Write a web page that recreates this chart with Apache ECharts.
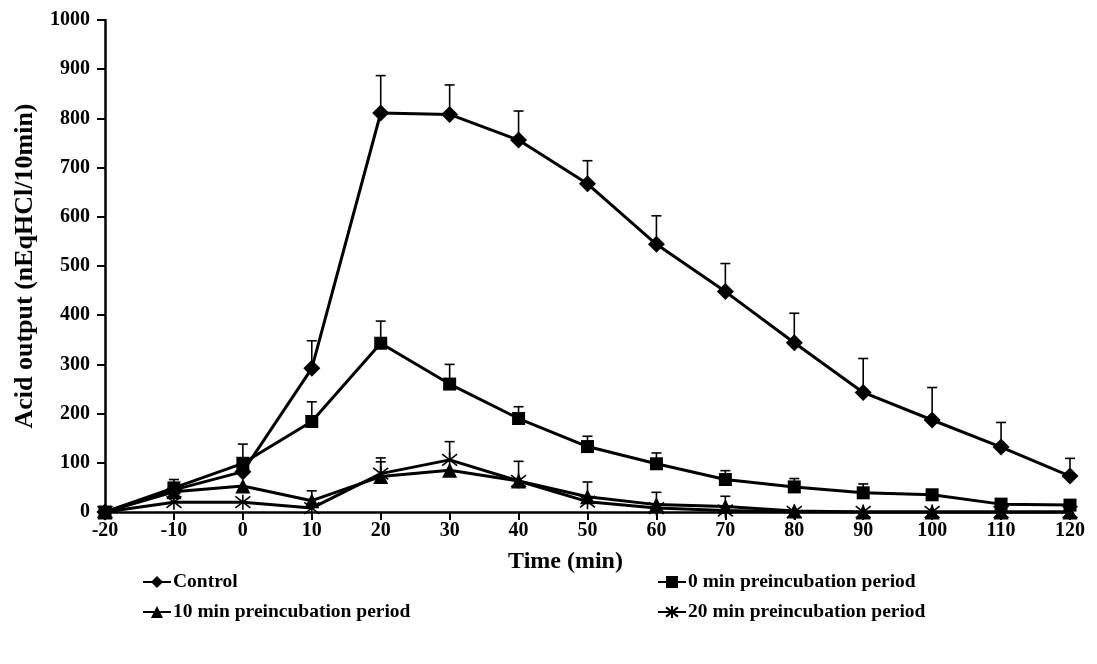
<!DOCTYPE html>
<html>
<head>
<meta charset="utf-8">
<script src="https://cdn.jsdelivr.net/npm/echarts@6/dist/echarts.min.js"></script>
<style>
  html, body { margin: 0; padding: 0; background: #fff; }
  #chart { width: 1097px; height: 664px; }
</style>
</head>
<body>
<div id="chart"></div>
<script>
// time points (min)
const times = [-20, -10, 0, 10, 20, 30, 40, 50, 60, 70, 80, 90, 100, 110, 120];

const seriesNames = ['Control', '0 min preincubation period', '10 min preincubation period', '20 min preincubation period'];

// mean acid output
const control = [0, 45, 82, 292, 811, 808, 756, 667, 544, 448, 344, 243, 187, 132, 73];
const pre0 = [0, 49, 99, 184, 343, 260, 190, 133, 98, 66, 51, 39, 35, 16, 14];
const pre10 = [0, 41, 53, 23, 72, 85, 63, 31, 15, 11, 2, 0, 0, 0, 0];
const pre20 = [0, 20, 20, 8, 78, 106, 63, 21, 8, 3, 0, 0, 0, 0, 0];

// upper error (SEM)
const controlErr = [0, 0, 0, 56, 76, 60, 59, 47, 58, 57, 60, 69, 66, 50, 36];
const pre0Err = [0, 17, 39, 40, 45, 40, 24, 21, 22, 18, 17, 18, 0, 0, 0];
const pre10Err = [0, 0, 0, 20, 30, 0, 0, 30, 25, 21, 0, 0, 0, 0, 0];
const pre20Err = [0, 0, 0, 0, 32, 37, 40, 0, 0, 0, 0, 0, 0, 0, 0];

const font = "'Liberation Serif', 'Times New Roman', serif";
const starPath = 'path://M0,0L10,10M10,0L0,10M5,-1.5L5,11.5';

const chart = echarts.init(document.getElementById('chart'));

const lineSeries = (name, values, symbol, size) => ({
  name: name,
  type: 'line',
  data: times.map((t, i) => [t, values[i]]),
  symbol: symbol,
  symbolSize: size,
  z: 3,
  lineStyle: { color: '#000', width: 3 },
  itemStyle: { color: '#000', borderColor: '#000', borderWidth: symbol === starPath ? 1.6 : 0 }
});

const errSeries = (values, errs) => ({
  type: 'custom',
  silent: true,
  z: 2,
  data: times.map((t, i) => [t, values[i], errs[i]]).filter(d => d[2] > 0),
  renderItem: (params, api) => {
    const x = api.value(0), y = api.value(1), e = api.value(2);
    const p0 = api.coord([x, y]);
    const p1 = api.coord([x, y + e]);
    const st = { stroke: '#000', lineWidth: 1.6 };
    return {
      type: 'group',
      children: [
        { type: 'line', shape: { x1: p0[0], y1: p0[1], x2: p1[0], y2: p1[1] }, style: st },
        { type: 'line', shape: { x1: p1[0] - 5, y1: p1[1], x2: p1[0] + 5, y2: p1[1] }, style: st }
      ]
    };
  }
});

const legendItem = (name, left, top) => ({
  data: [name],
  left: left,
  top: top,
  padding: 0,
  itemWidth: 28,
  itemHeight: 15,
  itemGap: 0,
  selectedMode: false,
  textStyle: { fontFamily: font, fontWeight: 'bold', fontSize: 19.5, color: '#000', padding: [0, 0, 0, -3] }
});

const option = {
  backgroundColor: '#fff',
  animation: false,
  grid: { left: 105, right: 27, top: 20, bottom: 152 },
  legend: [
    legendItem(seriesNames[0], 142, 572),
    legendItem(seriesNames[1], 657, 572),
    legendItem(seriesNames[2], 142, 602),
    legendItem(seriesNames[3], 657, 602)
  ],
  xAxis: {
    type: 'value',
    min: -20,
    max: 120,
    interval: 10,
    name: 'Time (min)',
    nameLocation: 'middle',
    nameGap: 38,
    nameTextStyle: { fontFamily: font, fontWeight: 'bold', fontSize: 24, color: '#000', padding: [0, 44, 0, 0] },
    axisLine: { onZero: false, lineStyle: { color: '#000', width: 2.5 } },
    axisTick: { length: 8, lineStyle: { color: '#000', width: 2 } },
    axisLabel: { fontFamily: font, fontWeight: 'bold', fontSize: 20, color: '#000', margin: 9 },
    splitLine: { show: false }
  },
  yAxis: {
    type: 'value',
    min: 0,
    max: 1000,
    interval: 100,
    name: 'Acid output (nEqHCl/10min)',
    nameLocation: 'middle',
    nameGap: 67,
    nameTextStyle: { fontFamily: font, fontWeight: 'bold', fontSize: 26, color: '#000' },
    axisLine: { show: true, onZero: false, lineStyle: { color: '#000', width: 2.5 } },
    axisTick: { show: true, length: 8, lineStyle: { color: '#000', width: 2 } },
    axisLabel: { fontFamily: font, fontWeight: 'bold', fontSize: 20, color: '#000', margin: 15, formatter: v => String(v) },
    splitLine: { show: false }
  },
  series: [
    errSeries(control, controlErr),
    errSeries(pre0, pre0Err),
    errSeries(pre10, pre10Err),
    errSeries(pre20, pre20Err),
    lineSeries(seriesNames[0], control, 'diamond', 17),
    lineSeries(seriesNames[1], pre0, 'rect', 13),
    lineSeries(seriesNames[2], pre10, 'triangle', 15),
    lineSeries(seriesNames[3], pre20, starPath, 15)
  ]
};

chart.setOption(option);
</script>
</body>
</html>
